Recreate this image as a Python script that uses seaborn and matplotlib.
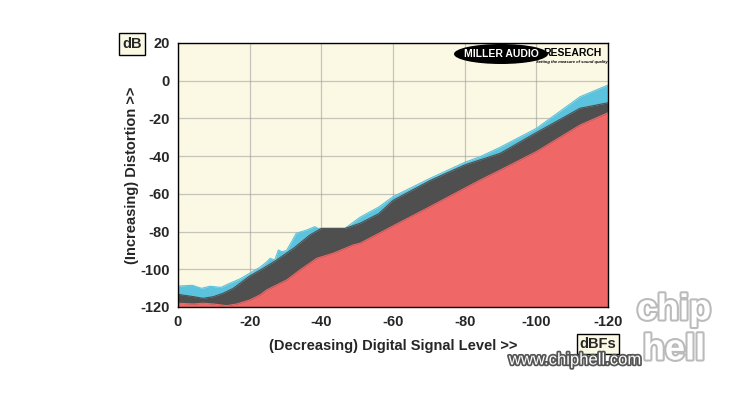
import numpy as np
import pandas as pd
import seaborn as sns
import matplotlib
matplotlib.use("Agg")
import matplotlib.pyplot as plt
from matplotlib.patches import Ellipse
import matplotlib.patheffects as pe

# ---- data (dBFS level, distortion dB) ----
cyan_level = [0, -4, -6.6, -8.9, -12, -14.5, -17.3, -20, -22.9, -24.8, -25.7, -27, -28, -29,
              -30.3, -31.7, -33, -35.9, -38.2, -39, -40.5, -46.6, -50.8, -56, -60, -70.3,
              -80, -84.3, -89.9, -100, -112.2, -120]
cyan_db = [-108.9, -108.5, -110.1, -109, -109.6, -107.4, -105.1, -102.1, -98.9, -96, -94.2,
           -95.1, -89.8, -90.7, -90, -85.4, -80.9, -79.2, -77.4, -78.3, -78.3, -78.3, -72.4,
           -67, -61.5, -51.8, -43.3, -40.3, -35.3, -25.3, -8.5, -2.3]

dark_level = [0, -4.3, -7, -9.9, -12.6, -15.4, -20, -23.8, -27.5, -32.2, -36.8, -40, -46.6,
              -50.8, -56, -60, -70.3, -80, -84.3, -89.9, -100, -112.2, -120]
dark_db = [-113.3, -114.5, -115.4, -114.5, -112.7, -110.1, -103.6, -99.5, -95.1, -88.9, -81.8,
           -78.3, -78.3, -75.6, -70.5, -63.5, -53, -44.7, -42, -38.5, -27.5, -14.6, -11.7]

red_level = [0, -4.3, -7, -9.9, -13.6, -16.4, -20, -22.9, -24.7, -30.3, -34, -38.7, -43.3,
             -48.9, -50.8, -56, -60, -70.3, -80, -84.3, -89.9, -100, -112.2, -120]
red_db = [-118, -118.4, -118, -118.4, -119.3, -118.4, -116.3, -113.6, -111, -105.7, -100.4,
          -94.2, -91.5, -87.1, -86.2, -81, -77, -66.8, -57, -52.7, -47.4, -37.6, -23.5, -17]

x_ticks = [0, -20, -40, -60, -80, -100, -120]
x_ticklabels = ["0", "-20", "-40", "-60", "-80", "-100", "-120"]
y_ticks = [20, 0, -20, -40, -60, -80, -100, -120]
y_ticklabels = ["20", "0", "-20", "-40", "-60", "-80", "-100", "-120"]

series = [
    ("cyan", cyan_level, cyan_db, "#5BC3DD"),
    ("dark", dark_level, dark_db, "#4F4F4F"),
    ("red", red_level, red_db, "#F06767"),
]

sns.set_style("white")
plt.rcParams['font.family'] = ['Liberation Sans', 'DejaVu Sans']

fig = plt.figure(figsize=(7.36, 3.94), dpi=100)
ax = fig.add_axes([178/736, 1-307/394, 430/736, 264/394])
ax.set_facecolor("#FBF8E4")

for name, lv, db, col in series:
    df = pd.DataFrame({"level": lv, "db": db})
    sns.lineplot(data=df, x="level", y="db", ax=ax, color=col, linewidth=0.8,
                 estimator=None, sort=False, zorder=3)
    ax.fill_between(df["level"], -120, df["db"], color=col, linewidth=0, zorder=3)

ax.set_xlim(0, -120)
ax.set_ylim(-120, 20)
ax.set_xticks(x_ticks)
ax.set_xticklabels(x_ticklabels)
ax.set_yticks(y_ticks)
ax.set_yticklabels(y_ticklabels)
ax.grid(True, color="#9A9A9A", linewidth=0.9, zorder=5)
ax.set_axisbelow(False)
for ln in ax.get_xgridlines() + ax.get_ygridlines():
    ln.set_alpha(0.55)
for s in ax.spines.values():
    s.set_color("black")
    s.set_linewidth(1.0)
    s.set_zorder(6)
ax.tick_params(axis="both", direction="out", length=4, width=1, color="black",
               labelsize=10.5, pad=2)
for lab in ax.get_xticklabels() + ax.get_yticklabels():
    lab.set_fontweight("bold")

ax.set_xlabel("(Decreasing) Digital Signal Level >>", fontsize=10.5, fontweight="bold",
              labelpad=7)
ax.set_ylabel("(Increasing) Distortion >>", fontsize=10.5, fontweight="bold", labelpad=1)

# unit boxes
fig.text(132/736, 1-44/394, "dB", ha="center", va="center", fontsize=10.5, fontweight="bold",
         bbox=dict(boxstyle="square,pad=0.25", facecolor="#FBF8E4", edgecolor="black", linewidth=1))
fig.text(598/736, 1-344/394, "dBFs", ha="center", va="center", fontsize=10.5, fontweight="bold",
         bbox=dict(boxstyle="square,pad=0.2", facecolor="#FBF8E4", edgecolor="black", linewidth=1))

# logo
ell = Ellipse((501/736, 1-54/394), 94/736, 20/394, transform=fig.transFigure,
              facecolor="black", edgecolor="none", zorder=10)
fig.patches.append(ell)
fig.text(501/736, 1-54/394, "MILLER AUDIO", ha="center", va="center", fontsize=7.5,
         fontweight="bold", color="white", zorder=11)
fig.text(572/736, 1-53/394, "RESEARCH", ha="center", va="center", fontsize=7.5,
         fontweight="bold", color="black", zorder=11)
fig.text(572/736, 1-62/394, "Setting the measure of sound quality", ha="center", va="center",
         fontsize=3, style="italic", fontweight="bold", color="black", zorder=11)

# watermark
stroke = [pe.withStroke(linewidth=2.5, foreground="#555555")]
fig.text(575/736, 1-360/394, "www.chiphell.com", ha="center", va="center", fontsize=12,
         color="white", path_effects=stroke, zorder=12)
fig.text(674/736, 1-310/394, "chip", ha="center", va="center", fontsize=26, fontweight="bold",
         color="white", path_effects=[pe.withStroke(linewidth=3, foreground="#BBBBBB")],
         zorder=12, rotation=0)
fig.text(674/736, 1-350/394, "hell", ha="center", va="center", fontsize=26, fontweight="bold",
         color="white", path_effects=[pe.withStroke(linewidth=3, foreground="#BBBBBB")],
         zorder=12)

fig.savefig("out.png", dpi=100, facecolor="white")
